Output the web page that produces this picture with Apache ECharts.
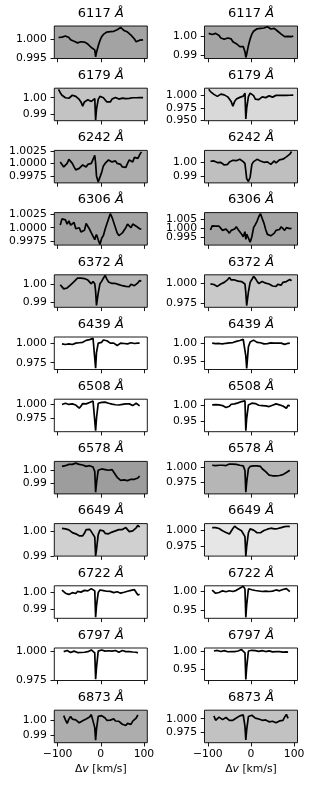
<!DOCTYPE html>
<html><head><meta charset="utf-8">
<script src="https://cdn.jsdelivr.net/npm/echarts@6/dist/echarts.min.js"></script>
<style>html,body{margin:0;padding:0;background:#fff}#c{width:313px;height:785px}</style>
</head><body><div id="c"></div>
<script>
const vel = [-98,-94,-90,-86,-82,-78,-74,-70,-66,-62,-58,-54,-50,-46,-42,-38,-34,-30,-26,-22,-18,-14,-12,-10,-6,-2,2,6,10,14,18,22,26,30,34,38,42,46,50,54,58,62,66,70,74,78,82,86,90,94,98];
const lines = ['6117','6179','6242','6306','6372','6439','6508','6578','6649','6722','6797','6873'];
const xTicks = [-100,0,100];

const f6117a = [1.0004,1.0003,1.0005,1.0002,1.0008,1.0010,1.0004,0.9998,0.9996,0.9994, 0.9992,0.9990,0.9991,0.9993,0.9991,0.9992,0.9989,0.9987,0.9983,0.9978, 0.9979,0.9972,0.9954,0.9965,0.9982,0.9996,1.0006,1.0012,1.0016,1.0018, 1.0019,1.0019,1.0021,1.0020,1.0023,1.0024,1.0025,1.0030,1.0027,1.0022, 1.0025,1.0018,1.0014,1.0010,1.0006,1.0000,0.9993,0.9990,0.9997,1.0000,0.9998];
const f6117b = [1.0014,1.0012,1.0008,1.0010,1.0014,1.0012,1.0003,0.9990,0.9985,0.9983, 0.9982,0.9990,0.9993,0.9985,0.9970,0.9965,0.9960,0.9953,0.9945,0.9938, 0.9945,0.9918,0.9888,0.9905,0.9950,0.9985,1.0010,1.0025,1.0033,1.0038, 1.0040,1.0040,1.0043,1.0042,1.0045,1.0049,1.0047,1.0037,1.0033,1.0040, 1.0035,1.0025,1.0018,1.0010,1.0000,0.9997,0.9995,0.9998,1.0002,0.9997,1.0000];
const f6179a = [1.0050,1.0030,1.0015,1.0005,1.0000,0.9996,0.9997,1.0005,1.0015,1.0018, 1.0008,0.9998,0.9990,0.9975,0.9950,0.9975,0.9985,0.9988,0.9985,0.9978, 0.9985,0.9995,0.9868,0.9930,0.9990,1.0008,1.0008,1.0000,0.9990,0.9975, 0.9965,0.9975,0.9992,1.0000,1.0002,0.9995,0.9992,1.0000,0.9998,1.0003, 0.9995,0.9988,0.9996,1.0002,1.0000,1.0001,1.0000,1.0001,1.0001,1.0001,1.0001];
const f6179b = [1.0130,1.0080,1.0040,1.0025,0.9990,0.9985,1.0005,1.0030,1.0045,1.0015, 0.9995,0.9975,0.9950,0.9880,0.9790,0.9880,0.9930,0.9945,0.9965,0.9950, 0.9990,1.0050,0.9530,0.9750,0.9980,1.0050,1.0050,1.0000,0.9930,0.9890, 0.9920,0.9955,0.9975,0.9970,0.9960,0.9980,0.9995,0.9985,0.9970,0.9990, 1.0005,1.0000,1.0008,1.0006,1.0005,1.0005,1.0006,1.0008,1.0008,1.0008,1.0010];
const f6242a = [null,1.0003,1.0000,0.9993,0.9990,1.0000,1.0008,1.0010,1.0000,0.9993, 0.9987,0.9986,0.9990,0.9993,0.9997,1.0000,0.9993,0.9998,1.0001,1.0000, 1.0004,1.0016,1.0000,0.9975,0.9963,0.9965,0.9982,0.9995,1.0000,1.0003, 1.0007,1.0010,1.0003,1.0000,1.0005,1.0000,1.0003,0.9998,0.9993,0.9990, 0.9992,1.0000,1.0007,1.0005,1.0003,1.0012,1.0012,1.0010,1.0017,1.0023,null];
const f6242b = [null,1.0008,1.0015,1.0010,1.0000,0.9998,1.0005,1.0000,0.9990,0.9980, 0.9970,0.9985,1.0003,1.0010,1.0015,1.0015,1.0012,1.0020,1.0023,1.0010, 1.0005,0.9990,0.9935,0.9880,0.9858,0.9890,0.9985,1.0005,1.0015,1.0022, 1.0030,1.0010,1.0000,1.0000,1.0005,1.0003,0.9995,0.9985,0.9995,1.0010, 0.9995,1.0005,1.0018,1.0025,1.0023,1.0030,1.0040,1.0050,1.0060,1.0080,null];
const f6306a = [null,1.0005,1.0017,1.0014,1.0015,1.0007,1.0013,1.0005,1.0003,1.0010, 0.9998,0.9997,1.0000,0.9992,0.9990,0.9995,1.0008,1.0005,0.9997,0.9990, 0.9988,0.9977,0.9983,0.9987,0.9977,0.9968,0.9980,0.9985,0.9997,1.0007, 1.0017,1.0027,1.0020,1.0010,1.0000,0.9990,0.9985,0.9987,0.9990,0.9995, 1.0000,1.0007,1.0004,1.0000,1.0007,1.0007,1.0003,1.0000,0.9998,0.9997,null];
const f6306b = [null,0.9992,1.0015,1.0010,1.0013,1.0005,1.0013,1.0016,0.9990,0.9995, 0.9998,0.9990,0.9975,0.9990,0.9985,0.9998,1.0010,0.9995,1.0003,0.9970, 0.9955,0.9983,0.9940,0.9970,0.9960,0.9925,0.9955,1.0005,1.0022,1.0040, 1.0065,1.0082,1.0055,1.0030,0.9995,0.9968,0.9965,0.9960,0.9960,0.9975, 0.9990,1.0000,0.9995,1.0010,1.0005,0.9990,1.0005,1.0000,1.0000,1.0002,null];
const f6372a = [null,0.9995,0.9985,0.9973,0.9975,0.9978,0.9988,0.9995,1.0003,1.0012, 1.0020,1.0030,1.0037,1.0030,1.0025,1.0028,1.0022,1.0020,1.0010,1.0000, 1.0012,1.0000,0.9960,0.9885,0.9950,1.0000,1.0013,1.0030,1.0045,1.0025, 1.0010,1.0005,1.0002,1.0000,1.0002,0.9993,0.9996,0.9988,0.9990,0.9985, 0.9986,0.9980,0.9985,0.9998,1.0003,0.9990,0.9995,1.0005,1.0018,1.0013,null];
const f6372b = [null,0.9992,0.9985,0.9983,0.9975,0.9960,0.9975,0.9990,1.0005,1.0010, 1.0020,1.0045,1.0070,1.0040,1.0035,1.0040,1.0030,1.0025,1.0035,1.0020, 1.0005,0.9990,0.9880,0.9720,0.9890,1.0010,1.0045,1.0085,1.0060,1.0025, 0.9995,1.0015,1.0020,0.9998,1.0000,1.0008,0.9990,1.0000,0.9965,0.9955, 0.9960,0.9985,1.0000,0.9975,1.0010,1.0030,1.0020,1.0040,1.0045,1.0030,null];
const f6439a = [null,null,0.9990,0.9980,0.9982,0.9985,0.9990,0.9985,0.9982,0.9995, 1.0000,0.9998,1.0005,1.0010,1.0010,1.0015,1.0035,1.0040,1.0045,1.0050, 1.0060,1.0060,0.9680,0.9880,1.0000,1.0015,1.0010,1.0040,1.0050,1.0030, 1.0005,1.0000,1.0015,1.0000,0.9980,0.9970,0.9990,1.0000,1.0003,0.9995, 0.9998,0.9990,1.0000,1.0005,0.9998,0.9995,1.0002,1.0000,1.0000,null,null];
const f6439b = [null,null,1.0000,0.9990,0.9985,0.9985,0.9990,0.9985,0.9980,0.9990, 0.9995,1.0000,1.0005,1.0010,1.0015,1.0025,1.0045,1.0060,1.0070,1.0080, 1.0100,1.0130,0.9650,0.9320,0.9900,1.0030,1.0030,1.0080,1.0080,1.0020, 0.9990,1.0010,1.0005,0.9980,0.9960,0.9985,1.0010,1.0005,0.9995,1.0000, 1.0030,1.0000,0.9980,1.0000,0.9990,0.9965,1.0000,0.9995,1.0000,null,null];
const f6508a = [null,null,0.9990,0.9995,1.0010,1.0000,0.9990,1.0000,1.0000,0.9990, 0.9980,0.9960,0.9925,0.9960,1.0005,1.0010,1.0000,1.0010,1.0025,1.0040, 1.0050,1.0060,0.9535,0.9750,1.0010,1.0020,1.0025,1.0040,1.0030,1.0020, 1.0010,1.0000,0.9995,0.9990,0.9985,0.9983,0.9980,0.9975,0.9990,1.0005, 1.0000,0.9990,1.0000,0.9990,0.9970,0.9965,1.0010,1.0010,0.9965,null,null];
const f6508b = [null,null,1.0000,0.9990,1.0010,0.9995,1.0000,0.9995,0.9980,0.9960, 0.9920,0.9900,0.9960,1.0020,1.0030,1.0030,1.0035,1.0060,1.0080,1.0100, 1.0110,1.0120,0.9230,0.9600,1.0000,1.0040,1.0050,1.0070,1.0040,1.0010, 0.9990,0.9985,0.9980,0.9975,0.9970,0.9965,0.9950,0.9960,0.9990,1.0000, 1.0030,1.0020,1.0000,0.9960,0.9965,0.9970,0.9900,0.9990,0.9970,null,null];
const f6578a = [null,null,1.0030,1.0025,1.0035,1.0030,1.0045,1.0030,1.0045,1.0040, 1.0055,1.0048,1.0045,1.0045,1.0040,1.0035,1.0030,1.0038,1.0035,1.0030, 1.0025,0.9990,0.9830,0.9900,1.0000,1.0005,1.0010,1.0008,1.0005,1.0020, 1.0000,1.0012,1.0005,0.9990,0.9965,0.9945,0.9930,0.9922,0.9920,0.9925, 0.9922,0.9920,0.9925,0.9930,0.9925,0.9930,0.9935,0.9940,0.9955,null,null];
const f6578b = [null,null,1.0040,1.0025,1.0035,1.0020,1.0040,1.0020,1.0040,1.0035, 1.0035,1.0050,1.0060,1.0075,1.0060,1.0065,1.0055,1.0045,1.0040,1.0035, 1.0030,0.9950,0.9580,0.9750,0.9980,1.0020,1.0040,1.0030,1.0045,1.0030, 1.0055,1.0020,0.9980,0.9950,0.9930,0.9900,0.9870,0.9850,0.9860,0.9870, 0.9860,0.9870,0.9865,0.9880,0.9880,0.9900,0.9915,0.9935,0.9955,null,null];
const f6649a = [null,null,1.0010,1.0006,1.0008,1.0000,1.0004,0.9996,0.9993,0.9990, 0.9988,0.9984,0.9980,0.9976,0.9980,0.9990,1.0005,1.0013,1.0006,0.9997, 0.9990,0.9975,0.9900,0.9925,0.9985,1.0003,1.0004,1.0000,0.9990,0.9985, 0.9988,0.9990,0.9995,1.0000,1.0000,1.0000,1.0005,1.0003,1.0005,1.0008, 1.0013,1.0005,0.9997,0.9993,1.0000,1.0005,1.0012,1.0022,1.0015,null,null];
const f6649b = [null,null,1.0040,1.0030,1.0040,1.0015,1.0025,1.0000,0.9990,0.9980, 0.9965,0.9950,0.9940,0.9965,1.0025,1.0060,1.0050,1.0020,0.9995,0.9990, 0.9975,0.9900,0.9600,0.9750,0.9960,1.0020,1.0030,1.0000,0.9975,0.9960, 0.9955,0.9960,0.9975,0.9995,1.0010,1.0015,1.0025,1.0030,1.0040,1.0020, 1.0030,1.0025,1.0030,1.0040,1.0045,1.0055,1.0080,1.0060,1.0055,null,null];
const f6722a = [null,null,1.0009,1.0000,0.9992,0.9982,0.9985,0.9992,0.9995,1.0000, 0.9990,1.0002,1.0003,0.9998,0.9995,1.0008,1.0000,1.0005,1.0010,1.0018, 1.0028,1.0005,0.9855,0.9920,0.9995,1.0010,1.0009,1.0007,1.0005,1.0003, 1.0000,1.0002,1.0000,0.9995,0.9997,1.0000,0.9998,0.9992,0.9995,0.9997, 1.0000,1.0003,1.0006,1.0008,1.0000,1.0012,1.0010,0.9982,0.9986,null,null];
const f6722b = [null,null,1.0025,0.9975,0.9945,0.9924,0.9965,0.9995,1.0008,0.9995, 0.9985,1.0020,1.0010,0.9995,0.9990,1.0035,1.0020,1.0030,1.0075,1.0110, 1.0127,1.0050,0.9330,0.9650,1.0060,1.0045,1.0035,1.0022,1.0015,1.0006, 1.0003,1.0000,0.9990,0.9985,1.0000,1.0005,0.9990,0.9985,1.0000,1.0010, 1.0030,1.0030,1.0008,1.0040,1.0040,1.0025,1.0065,1.0015,0.9985,null,null];
const f6797a = [null,null,null,1.0000,1.0012,1.0010,1.0000,0.9992,0.9995,1.0005, 0.9995,0.9992,1.0000,0.9993,0.9985,0.9995,1.0003,1.0000,1.0008,1.0015, 1.0012,0.9990,0.9760,0.9860,1.0005,1.0012,1.0015,1.0010,1.0005,1.0010, 1.0008,0.9998,1.0005,1.0008,1.0010,1.0000,0.9995,1.0005,1.0010,1.0008, 1.0000,1.0003,1.0000,0.9995,0.9997,0.9993,0.9995,0.9990,null,null,null];
const f6797b = [null,null,null,1.0000,1.0025,1.0015,0.9990,0.9985,1.0000,1.0010, 0.9990,0.9980,0.9995,0.9985,0.9960,0.9985,1.0010,1.0000,1.0020,1.0040, 1.0030,0.9950,0.9215,0.9550,1.0000,1.0030,1.0020,1.0000,1.0010,1.0015, 0.9990,1.0000,1.0010,0.9990,0.9985,1.0000,1.0005,0.9990,0.9975,0.9990, 0.9985,0.9975,0.9985,0.9975,0.9970,0.9970,0.9975,0.9970,null,null,null];
const f6873a = [null,null,null,1.0035,1.0005,0.9980,1.0010,1.0029,1.0010,1.0000, 1.0005,1.0012,0.9984,0.9995,0.9998,0.9996,1.0011,1.0016,1.0025,1.0042, 1.0050,0.9950,0.9862,0.9940,1.0030,1.0030,1.0035,1.0035,1.0018,1.0002, 0.9998,1.0003,1.0014,1.0012,0.9997,1.0001,0.9995,0.9985,0.9974,0.9980, 0.9965,0.9980,0.9985,0.9973,0.9996,1.0003,1.0018,1.0040,null,null,null];
const f6873b = [null,null,null,1.0052,0.9971,0.9971,1.0029,1.0029,0.9983,0.9988, 1.0023,1.0012,0.9971,0.9983,0.9971,0.9965,1.0012,1.0035,1.0052,1.0081, 1.0070,0.9860,0.9610,0.9800,1.0040,1.0064,1.0064,1.0052,1.0012,0.9988, 0.9994,1.0012,0.9971,0.9983,0.9977,0.9953,0.9942,0.9953,0.9953,0.9930, 0.9925,0.9948,0.9960,0.9983,0.9970,1.0030,1.0080,1.0005,null,null,null];

const yMinA = [0.99496,0.9863,0.9961,0.99667,0.9875,0.9664,0.9517,0.98175,0.9899,0.9849,0.9749,0.9844];
const yMaxA = [1.00337,1.0057,1.0026,1.0029,1.0048,1.0078,1.0081,1.0068,1.0029,1.0034,1.0032,1.0073];
const yMinB = [0.98825,0.9497,0.9848,0.9909,0.9700,0.9290,0.9200,0.9550,0.9600,0.9305,0.9186,0.9558];
const yMaxB = [1.00526,1.0149,1.0088,1.0088,1.0104,1.0164,1.0170,1.0106,1.0101,1.0136,1.0083,1.0157];
const yTicksA = [[0.995,1.0],[0.99,1.0],[0.9975,1.0,1.0025],[0.9975,1.0,1.0025],[0.99,1.0],[0.975,1.0],[0.975,1.0],[0.99,1.0],[0.99,1.0],[0.99,1.0],[0.975,1.0],[0.99,1.0]];
const yTicksB = [[0.99,1.0],[0.95,0.975,1.0],[0.99,1.0],[0.995,1.0,1.005],[0.975,1.0],[0.95,1.0],[0.95,1.0],[0.975,1.0],[0.975,1.0],[0.95,1.0],[0.95,1.0],[0.975,1.0]];
const yDecA = [3,2,4,4,2,3,3,2,2,2,3,2];
const yDecB = [2,3,2,3,3,2,2,3,3,2,2,3];
const bgA = ['#a3a3a3','#c3c3c3','#acacac','#a4a4a4','#b5b5b5','#ffffff','#ffffff','#9d9d9d','#d0d0d0','#ffffff','#ffffff','#adadad'];
const bgB = ['#a5a5a5','#d9d9d9','#bfbfbf','#a4a4a4','#c9c9c9','#ffffff','#ffffff','#b6b6b6','#e6e6e6','#ffffff','#ffffff','#c2c2c2'];

const fluxA = [f6117a,f6179a,f6242a,f6306a,f6372a,f6439a,f6508a,f6578a,f6649a,f6722a,f6797a,f6873a];
const fluxB = [f6117b,f6179b,f6242b,f6306b,f6372b,f6439b,f6508b,f6578b,f6649b,f6722b,f6797b,f6873b];

const FONT = 'DejaVu Sans';
const LEFTS = [54.3, 204.5];
const W = 93, H = 32.5, TOP0 = 26, PITCH = 62.2;
const grids = [], xAxes = [], yAxes = [], series = [], graphics = [];
const overlays = [];
let idx = 0;
function yLabelAxis(gi, ymin, ymax, vals, dec, withTicks) {
  return {type: 'value', gridIndex: gi, min: ymin, max: ymax, position: 'left',
    axisLine: {show: false, onZero: false}, splitLine: {show: false},
    axisTick: {show: withTicks, customValues: withTicks, length: 3.8, lineStyle: {color: '#000', width: 0.9}},
    axisLabel: {show: true, customValues: vals, margin: 7.5, color: '#000', fontSize: 10.8, fontFamily: FONT,
      hideOverlap: false, formatter: v => Number(v).toFixed(dec)}};
}
for (let r = 0; r < lines.length; r++) {
  for (let c = 0; c < 2; c++) {
    const flux = c === 0 ? fluxA[r] : fluxB[r];
    const ymin = c === 0 ? yMinA[r] : yMinB[r];
    const ymax = c === 0 ? yMaxA[r] : yMaxB[r];
    const yt = c === 0 ? yTicksA[r] : yTicksB[r];
    const dec = c === 0 ? yDecA[r] : yDecB[r];
    const bg = c === 0 ? bgA[r] : bgB[r];
    const top = TOP0 + PITCH * r;
    grids.push({left: LEFTS[c], top: top, width: W, height: H, show: true,
      backgroundColor: bg, borderColor: '#000', borderWidth: 0.9, containLabel: false, outerBoundsMode: 'none'});
    xAxes.push({type: 'value', gridIndex: idx, min: -107.8, max: 107.8, position: 'bottom',
      axisLine: {show: false, onZero: false}, splitLine: {show: false},
      axisTick: {show: true, customValues: xTicks, length: 3.8, lineStyle: {color: '#000', width: 0.9}},
      axisLabel: {show: r === lines.length - 1, customValues: xTicks, margin: 6.3, color: '#000',
        fontSize: 10.8, fontFamily: FONT, hideOverlap: false,
        formatter: v => (v < 0 ? '\u2212' + Math.abs(v) : String(v))}});
    // labels alternate between the main axis and an overlay axis so close labels are not dropped
    const mainLabels = yt.filter((v, i) => i % 2 === 0);
    const extraLabels = yt.filter((v, i) => i % 2 === 1);
    const ax = yLabelAxis(idx, ymin, ymax, mainLabels, dec, yt);
    ax.axisTick.show = true;
    yAxes.push(ax);
    if (extraLabels.length) overlays.push({left: LEFTS[c], top: top, ymin, ymax, vals: extraLabels, dec});
    const data = [];
    for (let k = 0; k < vel.length; k++) {
      if (flux[k] !== null) data.push([vel[k], flux[k]]);
    }
    series.push({type: 'line', xAxisIndex: idx, yAxisIndex: idx, data: data, showSymbol: false, symbol: 'none',
      lineStyle: {color: '#000', width: 1.7}, animation: false, silent: true, clip: true});
    const cx = LEFTS[c] + W / 2;
    graphics.push({type: 'text', x: cx, y: top - 12.5, silent: true,
      style: {text: lines[r] + ' {a|\u00c5}', fill: '#000', font: '13px "DejaVu Sans"',
        textAlign: 'center', textVerticalAlign: 'middle', align: 'center', verticalAlign: 'middle',
        rich: {a: {fontStyle: 'italic', fontSize: 13, fontFamily: FONT, fill: '#000'}}}});
    if (r === lines.length - 1) {
      graphics.push({type: 'text', x: cx, y: 769, silent: true,
        style: {text: '\u0394{v|v} [km/s]', fill: '#000', font: '10.8px "DejaVu Sans"',
          textAlign: 'center', textVerticalAlign: 'middle', align: 'center', verticalAlign: 'middle',
          rich: {v: {fontStyle: 'italic', fontSize: 10.8, fontFamily: FONT, fill: '#000'}}}});
    }
    idx++;
  }
}
overlays.forEach(o => {
  grids.push({left: o.left, top: o.top, width: W, height: H, show: false, containLabel: false, outerBoundsMode: 'none'});
  xAxes.push({type: 'value', gridIndex: idx, min: -107.8, max: 107.8, show: false});
  const ax = yLabelAxis(idx, o.ymin, o.ymax, o.vals, o.dec, false);
  ax.axisTick = {show: false};
  yAxes.push(ax);
  idx++;
});
const chart = echarts.init(document.getElementById('c'), null, {renderer: 'canvas', width: 313, height: 785});
chart.setOption({animation: false, backgroundColor: '#fff', grid: grids, xAxis: xAxes, yAxis: yAxes, series: series, graphic: graphics});
</script></body></html>
